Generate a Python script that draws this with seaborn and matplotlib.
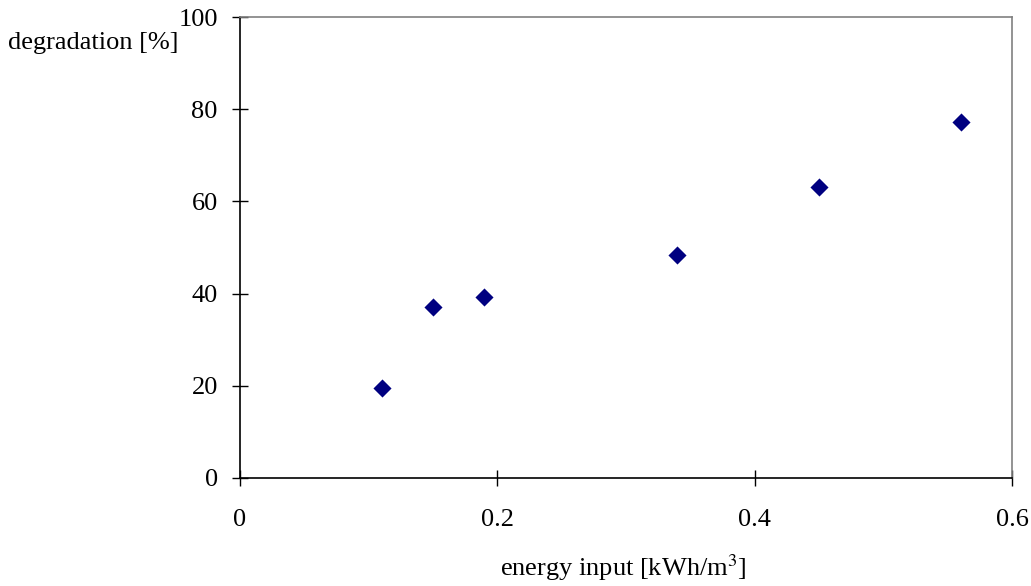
import matplotlib
matplotlib.use("Agg")
import matplotlib.pyplot as plt
import seaborn as sns
import pandas as pd

energy = [0.11, 0.15, 0.19, 0.34, 0.45, 0.56]
degradation = [19.5, 37.2, 39.2, 48.3, 63.2, 77.2]
x_ticks = [0, 0.2, 0.4, 0.6]
x_tick_labels = ["0", "0.2", "0.4", "0.6"]
y_ticks = [0, 20, 40, 60, 80, 100]

sns.set_style("white")
plt.rcParams['font.family'] = ['Liberation Serif', 'DejaVu Serif']
plt.rcParams['mathtext.fontset'] = 'stix'
plt.rcParams['text.color'] = 'black'
plt.rcParams['xtick.color'] = 'black'
plt.rcParams['ytick.color'] = 'black'

df = pd.DataFrame({"energy": energy, "degradation": degradation})

fig = plt.figure(figsize=(10.31, 5.86), dpi=100)
ax = fig.add_axes([240/1031, 108/586, 772/1031, 461/586])
sns.scatterplot(data=df, x="energy", y="degradation", ax=ax, marker="D",
                color="#000080", s=85, edgecolor="#000080", linewidth=0, zorder=3)

ax.set_xlim(0, 0.6)
ax.set_ylim(0, 100)
ax.set_xticks(x_ticks)
ax.set_xticklabels(x_tick_labels)
ax.set_yticks(y_ticks)
ax.tick_params(axis="both", direction="inout", length=12, width=1, color="black",
               labelcolor="black", labelsize=19, pad=10, left=True, bottom=True)
ax.tick_params(axis="x", pad=16)
for s in ["left", "bottom"]:
    ax.spines[s].set_color("black")
    ax.spines[s].set_linewidth(1.2)
for s in ["top", "right"]:
    ax.spines[s].set_color("#808080")
    ax.spines[s].set_linewidth(1.2)

ax.set_xlabel("")
ax.set_ylabel("")
fig.text(623/1031, 1 - 568/586, "energy input [kWh/m$^3$]", ha="center", va="center",
         fontsize=19, color="black")
fig.text(8/1031, 1 - 43/586, "degradation [%]", ha="left", va="center",
         fontsize=19, color="black")

fig.savefig("out.png", dpi=100)
